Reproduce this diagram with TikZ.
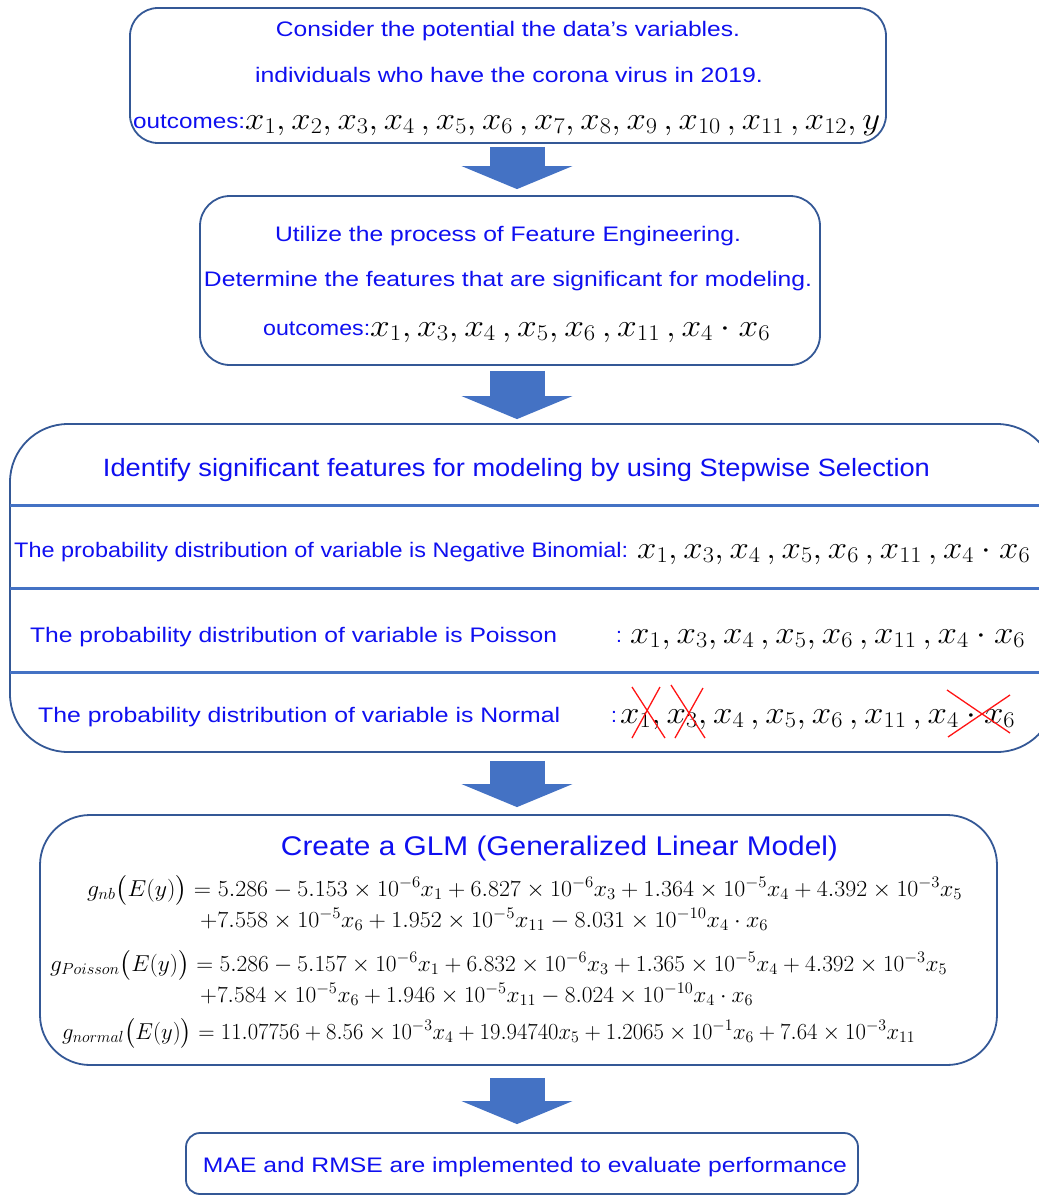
\RequirePackage{fix-cm}
\documentclass[tikz,border=0pt]{standalone}
\usepackage{amsmath}
\usepackage{fontspec}
\setmainfont{Liberation Sans}
\usepackage{graphicx}
\usetikzlibrary{calc,arrows.meta}
\definecolor{txtblue}{RGB}{15,15,240}
\definecolor{bordc}{RGB}{52,88,150}
\definecolor{arrowc}{RGB}{68,114,196}
\definecolor{xred}{RGB}{255,20,20}
\newcommand\fitw[2]{\resizebox{#1pt}{\height}{#2}}
\tikzset{
  box/.style={draw=bordc, line width=1.8pt, rounded corners=#1, inner sep=0pt},
  txt/.style={text=txtblue, inner sep=0pt, font=\fontsize{21}{25}\selectfont},
  ttl/.style={text=txtblue, inner sep=0pt, font=\fontsize{25}{29}\selectfont},
  mth/.style={text=black, inner sep=0pt, font=\fontsize{32}{36}\selectfont},
  eqn/.style={text=black, inner sep=0pt, font=\fontsize{23}{27}\selectfont},
  blk/.style={arrowc, line width=55pt, -{Triangle[width=110pt,length=23pt]}},
  sepline/.style={arrowc, line width=3pt},
  cross/.style={xred, line width=1.3pt}
}
\begin{document}
\begin{tikzpicture}[x=1pt,y=-1pt]
\useasboundingbox (0,0) rectangle (1039,1197);
% boxes
\node[box=28, minimum width=756pt, minimum height=135pt] (b1) at (508,75.5) {};
\node[box=30, minimum width=620pt, minimum height=169pt] (b2) at (510,280.5) {};
\node[box=58, minimum width=1045pt, minimum height=328pt] (b3) at (532.5,588) {};
\node[box=50, minimum width=957pt, minimum height=250pt] (b4) at (518.5,940) {};
\node[box=14, minimum width=672pt, minimum height=61pt] (b5) at (522,1163.5) {};
% block arrows
\draw[blk] ($(b1.south)+(9,3)$) -- ($(b2.north)+(7,-6)$);
\draw[blk] ($(b2.south)+(7,5)$) -- ($(b3.north)+(-15.5,-4)$);
\draw[blk] ($(b3.south)+(-15.5,8)$) -- ($(b4.north)+(-1.5,-7)$);
\draw[blk] ($(b4.south)+(-1.5,12)$) -- ($(b5.north)+(-5,-8)$);
% box 1
\node[txt] (t11) at (508,31) {\fitw{464}{Consider the potential the data's variables.}};
\node[txt] (t12) at (509,75) {\fitw{508}{individuals who have the corona virus in 2019.}};
\node[txt, anchor=base west] (t13) at (133,128) {\fitw{112}{outcomes:}};
\node[mth, anchor=base west] (m13) at (245,129) {\fitw{635}{$x_1, x_2, x_3, x_4\,, x_5, x_6\,, x_7, x_8, x_9\,, x_{10}\,, x_{11}\,, x_{12}, y$}};
% box 2
\node[txt] (t21) at (508,236) {\fitw{466}{Utilize the process of Feature Engineering.}};
\node[txt] (t22) at (508,281) {\fitw{608}{Determine the features that are significant for modeling.}};
\node[txt, anchor=base west] (t23) at (263,335) {\fitw{107}{outcomes:}};
\node[mth, anchor=base west] (m23) at (370,336) {\fitw{400}{$x_1, x_3, x_4\,, x_5, x_6\,, x_{11}\,, x_4\cdot x_6$}};
% box 3
\node[ttl] (t30) at (516.5,470) {\fitw{827}{Identify significant features for modeling by using Stepwise Selection}};
\draw[sepline] (10,505) -- (1039,505);
\draw[sepline] (10,588) -- (1039,588);
\draw[sepline] (10,672) -- (1039,672);
\node[txt, anchor=base west] (t31) at (14,557) {\fitw{614}{The probability distribution of variable is Negative Binomial:}};
\node[mth, anchor=base west] (m31) at (637,558) {\fitw{393}{$x_1, x_3, x_4\,, x_5, x_6\,, x_{11}\,, x_4\cdot x_6$}};
\node[txt, anchor=base west] (t32) at (30,642) {\fitw{527}{The probability distribution of variable is Poisson}};
\node[txt, anchor=base west] (c32) at (616,642) {:};
\node[mth, anchor=base west] (m32) at (630,643) {\fitw{395}{$x_1, x_3, x_4\,, x_5, x_6\,, x_{11}\,, x_4\cdot x_6$}};
\node[txt, anchor=base west] (t33) at (38,722) {\fitw{522}{The probability distribution of variable is Normal}};
\node[txt, anchor=base west] (c33) at (611,722) {:};
\node[mth, anchor=base west] (m33) at (620,723) {\fitw{395}{$x_1, x_3, x_4\,, x_5, x_6\,, x_{11}\,, x_4\cdot x_6$}};
\draw[cross] (632,687) -- (665,738);
\draw[cross] (660,687) -- (632,738);
\draw[cross] (671,685) -- (705,738);
\draw[cross] (703,688) -- (675,738);
\draw[cross] (947,690) -- (1010,733);
\draw[cross] (1010,695) -- (948,737);
% box 4
\node[ttl, font=\fontsize{27}{31}\selectfont] (t40) at (559.5,849) {\fitw{557}{Create a GLM (Generalized Linear Model)}};
\node[eqn, anchor=base west] (e11) at (87,896) {\fitw{875}{$g_{nb}\bigl(E(y)\bigr) = 5.286 - 5.153\times 10^{-6}x_1 + 6.827\times 10^{-6}x_3 + 1.364\times 10^{-5}x_4 + 4.392\times 10^{-3}x_5$}};
\node[eqn, anchor=base west] (e12) at (200,927) {\fitw{568}{$+7.558\times 10^{-5}x_6 + 1.952\times 10^{-5}x_{11} - 8.031\times 10^{-10}x_4\cdot x_6$}};
\node[eqn, anchor=base west] (e21) at (50,971) {\fitw{897}{$g_{Poisson}\bigl(E(y)\bigr) = 5.286 - 5.157\times 10^{-6}x_1 + 6.832\times 10^{-6}x_3 + 1.365\times 10^{-5}x_4 + 4.392\times 10^{-3}x_5$}};
\node[eqn, anchor=base west] (e22) at (200,1002) {\fitw{553}{$+7.584\times 10^{-5}x_6 + 1.946\times 10^{-5}x_{11} - 8.024\times 10^{-10}x_4\cdot x_6$}};
\node[eqn, anchor=base west] (e31) at (62,1039) {\fitw{853}{$g_{normal}\bigl(E(y)\bigr) = 11.07756 + 8.56\times 10^{-3}x_4 + 19.94740x_5 + 1.2065\times 10^{-1}x_6 + 7.64\times 10^{-3}x_{11}$}};
% box 5
\node[txt] (t50) at (525,1167) {\fitw{644}{MAE and RMSE are implemented to evaluate performance}};
\end{tikzpicture}
\end{document}
